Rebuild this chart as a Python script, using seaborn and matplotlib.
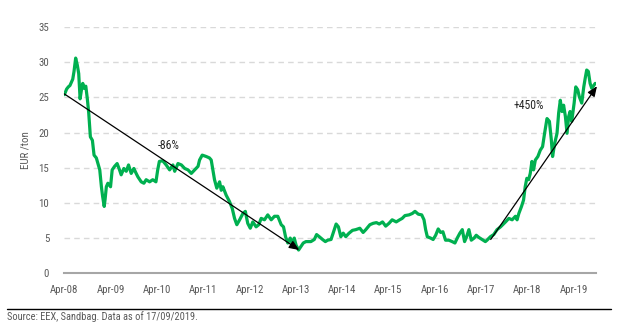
import matplotlib
matplotlib.use("Agg")
import matplotlib.pyplot as plt
from matplotlib.lines import Line2D
import pandas as pd
import seaborn as sns

# EU carbon allowance price (EUA), EUR per tonne
dates = [
    "2008-04-01", "2008-04-19", "2008-05-02", "2008-05-15", "2008-06-06", "2008-06-16",
    "2008-06-29", "2008-07-12", "2008-07-23", "2008-08-03", "2008-08-13", "2008-08-24",
    "2008-09-04", "2008-09-17", "2008-09-29", "2008-10-10", "2008-10-23", "2008-11-08",
    "2008-11-21", "2008-12-09", "2008-12-22", "2009-01-05", "2009-01-18", "2009-01-27",
    "2009-02-09", "2009-02-16", "2009-02-26", "2009-03-10", "2009-03-31", "2009-04-13",
    "2009-05-02", "2009-05-22", "2009-06-10", "2009-06-23", "2009-07-14", "2009-08-02",
    "2009-08-20", "2009-09-10", "2009-10-01", "2009-10-19", "2009-11-02", "2009-11-28",
    "2009-12-19", "2010-01-06", "2010-02-02", "2010-02-27", "2010-03-24", "2010-04-07",
    "2010-04-20", "2010-05-16", "2010-06-13", "2010-07-10", "2010-08-05", "2010-08-19",
    "2010-09-14", "2010-10-11", "2010-11-06", "2010-12-02", "2010-12-28", "2011-01-24",
    "2011-02-19", "2011-03-03", "2011-03-24", "2011-04-25", "2011-05-20", "2011-06-03",
    "2011-06-16", "2011-06-29", "2011-07-17", "2011-08-08", "2011-08-21", "2011-09-03",
    "2011-09-29", "2011-10-25", "2011-11-16", "2011-12-04", "2011-12-22", "2012-01-13",
    "2012-02-08", "2012-02-27", "2012-03-17", "2012-04-06", "2012-04-26", "2012-05-22",
    "2012-06-12", "2012-07-01", "2012-07-27", "2012-08-22", "2012-09-18", "2012-10-14",
    "2012-11-09", "2012-12-06", "2012-12-24", "2013-01-09", "2013-01-27", "2013-02-15",
    "2013-03-01", "2013-03-19", "2013-04-02", "2013-04-22", "2013-05-11", "2013-05-29",
    "2013-06-19", "2013-07-28", "2013-08-24", "2013-09-11", "2013-10-02", "2013-10-28",
    "2013-11-19", "2013-12-07", "2014-01-03", "2014-01-23", "2014-02-12", "2014-03-02",
    "2014-03-21", "2014-04-09", "2014-04-29", "2014-05-25", "2014-06-21", "2014-07-17",
    "2014-08-18", "2014-09-13", "2014-10-04", "2014-11-05", "2014-12-01", "2014-12-27",
    "2015-01-18", "2015-02-13", "2015-03-10", "2015-04-05", "2015-04-30", "2015-06-01",
    "2015-06-28", "2015-07-18", "2015-08-09", "2015-09-10", "2015-10-06", "2015-10-27",
    "2015-11-22", "2015-12-19", "2016-01-06", "2016-01-19", "2016-02-01", "2016-02-27",
    "2016-03-18", "2016-04-07", "2016-04-27", "2016-05-16", "2016-06-03", "2016-06-24",
    "2016-07-20", "2016-08-15", "2016-09-06", "2016-09-24", "2016-10-15", "2016-11-03",
    "2016-11-21", "2016-12-07", "2016-12-25", "2017-01-13", "2017-02-04", "2017-02-21",
    "2017-03-13", "2017-04-08", "2017-05-04", "2017-05-17", "2017-06-13", "2017-07-09",
    "2017-08-04", "2017-09-01", "2017-10-10", "2017-11-05", "2017-12-01", "2017-12-27",
    "2018-01-09", "2018-01-23", "2018-02-13", "2018-03-01", "2018-03-14", "2018-03-27",
    "2018-04-10", "2018-04-23", "2018-05-06", "2018-05-19", "2018-06-02", "2018-06-22",
    "2018-07-11", "2018-07-29", "2018-08-14", "2018-09-02", "2018-09-21", "2018-10-06",
    "2018-10-16", "2018-11-02", "2018-11-20", "2018-12-03", "2018-12-16", "2018-12-29",
    "2019-01-11", "2019-01-25", "2019-02-07", "2019-02-20", "2019-03-03", "2019-03-16",
    "2019-04-04", "2019-04-17", "2019-05-02", "2019-05-15", "2019-06-03", "2019-06-19",
    "2019-06-30", "2019-07-12", "2019-07-25", "2019-08-08", "2019-08-21", "2019-09-17",
]
prices = [
    25.4, 26.2, 26.5, 26.7, 27.6, 28.7,
    30.6, 29.6, 28.4, 24.8, 26.0, 27.0,
    26.3, 26.6, 24.8, 22.8, 19.4, 18.9,
    16.8, 16.4, 15.6, 14.7, 12.3, 11.0,
    9.5, 10.5, 12.3, 12.8, 12.3, 14.7,
    15.2, 15.6, 14.7, 14.0, 14.9, 14.5,
    15.4, 14.2, 14.9, 14.2, 13.7, 13.0,
    12.8, 13.3, 13.0, 13.3, 13.0, 14.7,
    15.9, 16.0, 15.4, 14.7, 15.4, 14.5,
    15.6, 15.4, 14.9, 14.7, 14.2, 14.7,
    15.2, 16.1, 16.8, 16.6, 16.4, 16.1,
    14.7, 13.3, 12.1, 13.0, 11.8, 12.3,
    11.1, 10.2, 9.2, 7.8, 6.9, 7.6,
    8.5, 8.8, 7.1, 6.4, 7.3, 6.6,
    6.9, 7.8, 7.6, 8.3, 7.6, 8.1,
    8.1, 6.9, 6.6, 5.2, 4.3, 5.0,
    4.3, 5.0, 4.0, 3.3, 3.8, 4.3,
    4.5, 4.5, 4.8, 5.5, 5.2, 4.8,
    4.5, 4.7, 4.8, 5.9, 7.0, 6.6,
    5.2, 5.7, 5.2, 5.7, 6.1, 6.2,
    6.4, 5.8, 6.2, 6.9, 7.1, 7.2,
    7.0, 7.3, 6.7, 7.1, 7.6, 7.3,
    7.6, 7.8, 8.2, 8.3, 8.5, 8.8,
    8.4, 8.3, 7.6, 6.2, 5.2, 5.0,
    4.8, 5.4, 6.3, 5.8, 5.9, 4.7,
    4.7, 4.5, 4.3, 5.0, 5.7, 6.2,
    4.5, 5.2, 6.2, 4.7, 5.0, 5.4,
    5.1, 4.8, 4.5, 4.7, 5.2, 5.5,
    6.2, 6.6, 7.3, 7.8, 7.6, 8.1,
    7.6, 8.5, 9.5, 10.4, 12.3, 13.5,
    13.3, 14.2, 15.9, 14.7, 16.1, 16.6,
    17.5, 18.0, 19.9, 22.0, 21.6, 19.0,
    16.6, 18.5, 19.9, 22.8, 24.6, 23.0,
    23.9, 22.3, 19.9, 22.3, 23.0, 21.6,
    24.2, 26.5, 26.1, 25.1, 24.2, 26.5,
    27.7, 28.9, 28.7, 27.0, 26.3, 27.0,
]

# Trend annotations: (start date, start price, end date, end price) and (label, date, price)
fall_arrow = ("2008-04-01", 25.5, "2013-04-27", 3.3)
fall_label = ("-86%", "2010-07-03", 18.2)
rise_arrow = ("2017-06-15", 4.8, "2019-10-01", 26.6)
rise_label = ("+450%", "2018-04-10", 23.9)

tick_dates = ["2008-04-01", "2009-04-01", "2010-04-01", "2011-04-01", "2012-04-01",
              "2013-04-01", "2014-04-01", "2015-04-01", "2016-04-01", "2017-04-01",
              "2018-04-01", "2019-04-01"]
tick_labels = ["Apr-08", "Apr-09", "Apr-10", "Apr-11", "Apr-12", "Apr-13",
               "Apr-14", "Apr-15", "Apr-16", "Apr-17", "Apr-18", "Apr-19"]
y_ticks = [0, 5, 10, 15, 20, 25, 30, 35]

source_text = "Source: EEX, Sandbag. Data as of 17/09/2019."

sns.set_style("white")
plt.rcParams["font.family"] = ["Roboto Condensed", "DejaVu Sans"]

df = pd.DataFrame({"date": pd.to_datetime(dates), "price": prices})

fig = plt.figure(figsize=(6.22, 3.29), dpi=100)
ax = fig.add_axes([0.1035, 0.1695, 0.854, 0.748])

GREEN = "#00B050"
GREY_TXT = "#595959"

sns.lineplot(data=df, x="date", y="price", ax=ax, color=GREEN, linewidth=2.3, zorder=3)

ax.set_xlim(pd.Timestamp("2008-04-01"), pd.Timestamp("2019-09-20"))
ax.set_ylim(0, 35)
ax.set_yticks(y_ticks)
ax.set_yticklabels([str(v) for v in y_ticks])
ax.set_xticks(pd.to_datetime(tick_dates))
ax.set_xticklabels(tick_labels)

ax.yaxis.grid(True, color="#D9D9D9", linestyle=(0, (4, 3)), linewidth=1.0)
ax.xaxis.grid(False)
for side in ("left", "right", "top"):
    ax.spines[side].set_visible(False)
ax.spines["bottom"].set_color("#A6A6A6")
ax.spines["bottom"].set_linewidth(1.5)
ax.spines["bottom"].set_zorder(4)

ax.tick_params(axis="x", direction="out", length=3.5, width=1.2, color="#808080",
               labelsize=7.8, labelcolor=GREY_TXT, pad=5)
ax.tick_params(axis="y", length=0, labelsize=7.8, labelcolor=GREY_TXT, pad=11)

ax.set_xlabel("")
ax.set_ylabel("EUR /ton", fontsize=7.8, color=GREY_TXT)
ax.yaxis.set_label_coords(-0.064, 0.5)

# Trend arrows and their percentage labels
for (d0, p0, d1, p1), (txt, dl, pl) in ((fall_arrow, fall_label), (rise_arrow, rise_label)):
    ax.annotate("", xy=(pd.Timestamp(d1), p1), xytext=(pd.Timestamp(d0), p0),
                arrowprops=dict(arrowstyle="-|>,head_length=0.6,head_width=0.25",
                                color="black", lw=0.9, shrinkA=0, shrinkB=0),
                zorder=5, annotation_clip=False)
    ax.text(pd.Timestamp(dl), pl, txt, fontsize=8.5, color="#262626",
            ha="center", va="center", zorder=6)

# Footer rule and source note
fig.add_artist(Line2D([0.011, 0.982], [0.060, 0.060], color="black", linewidth=1.0,
                      transform=fig.transFigure))
fig.text(0.011, 0.037, source_text, fontsize=7.5, color=GREY_TXT, ha="left", va="center")

fig.savefig("out.png", dpi=100)
